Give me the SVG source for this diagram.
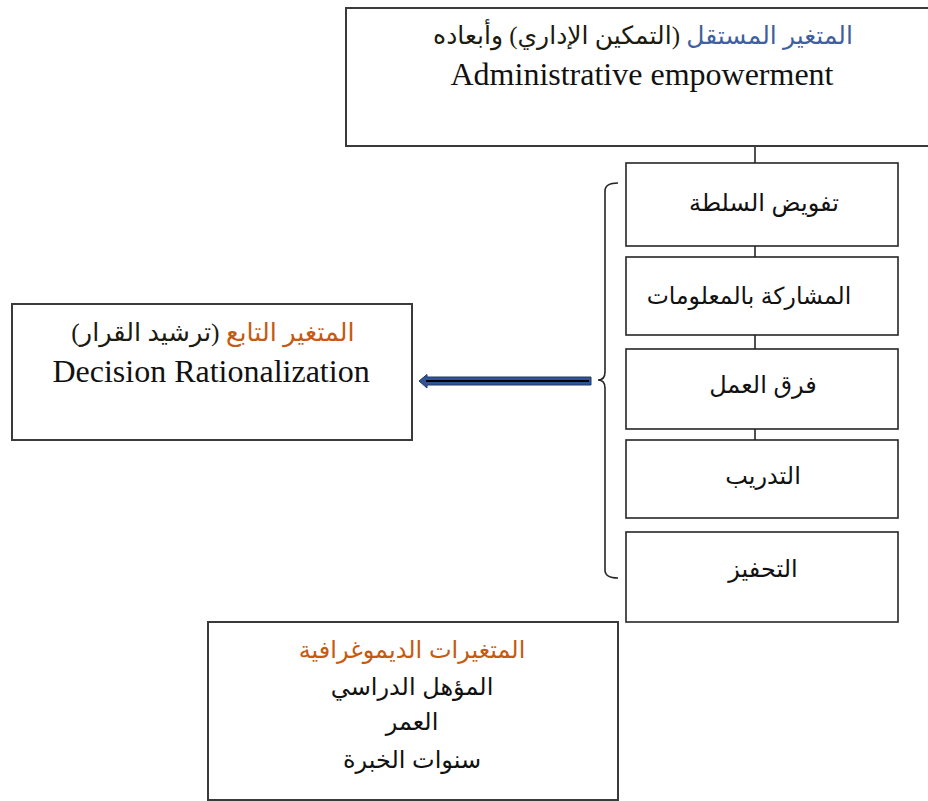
<svg xmlns="http://www.w3.org/2000/svg" width="928" height="801" viewBox="0 0 928 801">
<style>
.box{fill:#fff;stroke:#3a3a3a;stroke-width:2}
.dim{fill:#fff;stroke:#262626;stroke-width:1.6}
.ln{fill:none;stroke:#262626;stroke-width:1.6}
.ser{font-family:"Liberation Serif","DejaVu Serif",serif;fill:#111;text-anchor:middle}
.ar{font-family:"Liberation Serif","DejaVu Sans",serif;fill:#1b1b10;text-anchor:middle}
.sans{font-family:"Liberation Sans","DejaVu Sans",sans-serif;fill:#111;text-anchor:middle}
.blue{fill:#3f5f9f}
.orange{fill:#c55a11}
</style>
<rect width="928" height="801" fill="#fff"/>
<g id="connectors">
<path class="ln" d="M755 146V163M755 246V257M755 335V349M755 429V440"/>
<path class="ln" d="M618 183Q605 183 605 191V372Q605 380 598 380Q605 380 605 388V570Q605 578 618 578"/>
<path d="M591 377H427V374.5L419 381L427 388V385H591Z" fill="#2f5597" stroke="#1f3864" stroke-width="1"/>
<line x1="426" y1="381" x2="589" y2="381" stroke="#000" stroke-width="2.2"/>
</g>
<g id="independent">
<rect class="box" x="346" y="8" width="600" height="138"/>
<text class="ar" x="643" y="44" font-size="25" direction="rtl"><tspan class="blue">المتغير المستقل</tspan> (التمكين الإداري) وأبعاده</text>
<text class="ser" x="642" y="85" font-size="32">Administrative empowerment</text>
</g>
<g id="dependent">
<rect class="box" x="12" y="304" width="400" height="136"/>
<text class="ar" x="213" y="341" font-size="25.5" direction="rtl"><tspan class="orange">المتغير التابع</tspan> (ترشيد القرار)</text>
<text class="ser" x="211" y="382" font-size="32">Decision Rationalization</text>
</g>
<g id="dim1">
<rect class="dim" x="626" y="163" width="272" height="83"/>
<text class="sans" x="764" y="211" font-size="24" direction="rtl">تفويض السلطة</text>
</g>
<g id="dim2">
<rect class="dim" x="626" y="257" width="272" height="78"/>
<text class="sans" x="749" y="304" font-size="23.5" direction="rtl">المشاركة بالمعلومات</text>
</g>
<g id="dim3">
<rect class="dim" x="626" y="349" width="272" height="80"/>
<text class="sans" x="763" y="393" font-size="24" direction="rtl">فرق العمل</text>
</g>
<g id="dim4">
<rect class="dim" x="626" y="440" width="272" height="78"/>
<text class="sans" x="763" y="484" font-size="24" direction="rtl">التدريب</text>
</g>
<g id="dim5">
<rect class="dim" x="626" y="532" width="272" height="90"/>
<text class="sans" x="763" y="577" font-size="24" direction="rtl">التحفيز</text>
</g>
<g id="demographic">
<rect class="box" x="208" y="622" width="410" height="178"/>
<text class="sans orange" x="412" y="658" font-size="24" direction="rtl">المتغيرات الديموغرافية</text>
<text class="sans" x="412" y="695" font-size="24" direction="rtl">المؤهل الدراسي</text>
<text class="sans" x="412" y="730" font-size="24" direction="rtl">العمر</text>
<text class="sans" x="412" y="768" font-size="24" direction="rtl">سنوات الخبرة</text>
</g>
</svg>
